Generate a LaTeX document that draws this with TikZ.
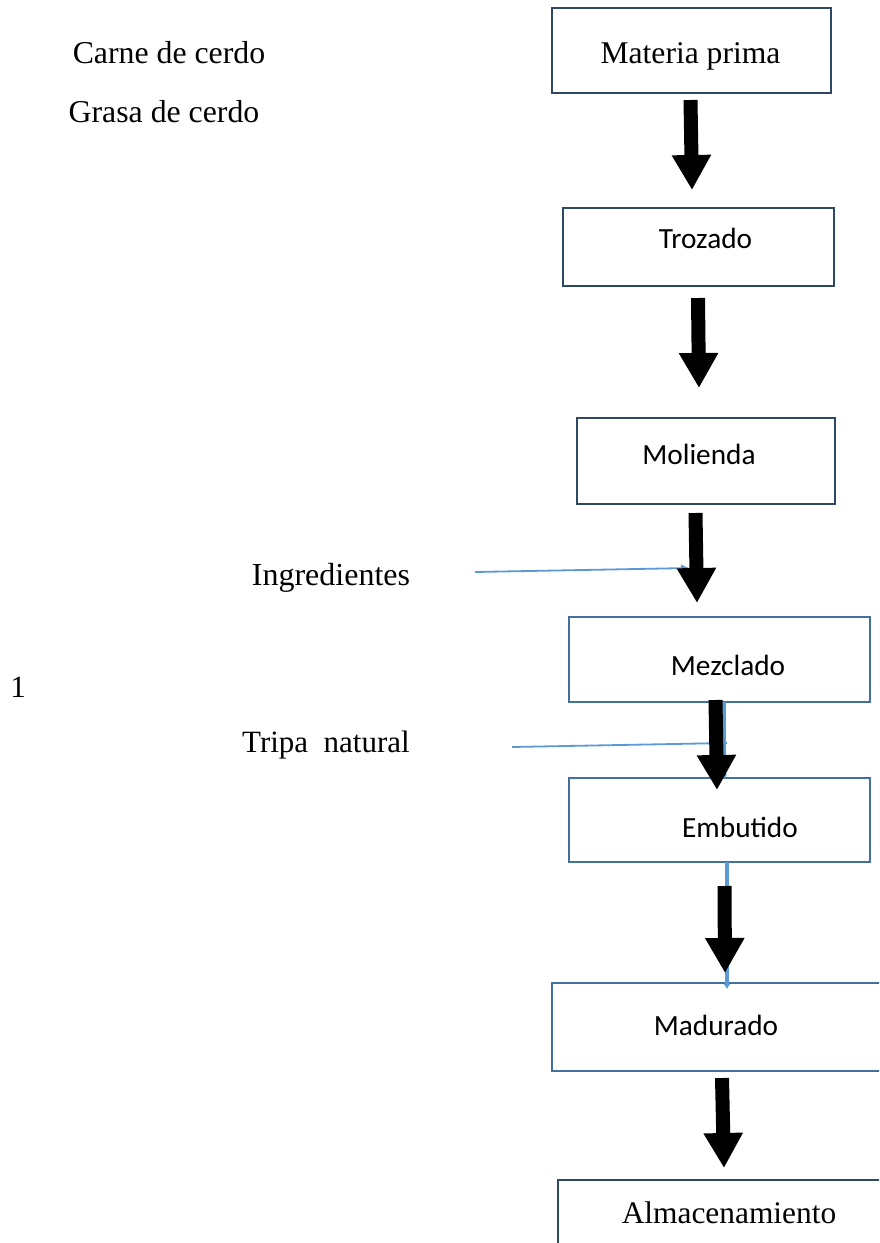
\documentclass[tikz,border=0pt]{standalone}
\usepackage{fontspec}
\setmainfont{Liberation Serif}
\newfontfamily\calib{Carlito}
\usetikzlibrary{arrows.meta}
\definecolor{boxdark}{RGB}{47,72,100}
\definecolor{boxblue}{RGB}{65,113,156}
\definecolor{lineblue}{RGB}{91,155,213}
\tikzset{
  darkbox/.style={draw=boxdark, line width=2.8pt, rectangle, inner sep=0pt, outer sep=0pt, fill=white},
  bluebox/.style={draw=boxblue, line width=2.5pt, rectangle, inner sep=0pt, outer sep=0pt, fill=white},
  serif/.style={anchor=base, inner sep=0pt, font=\fontsize{#1}{#1}\selectfont},
  calibri/.style={anchor=base, inner sep=0pt, font=\calib\fontsize{29.3}{30}\selectfont},
  bigarrow/.style={draw=black, line width=14pt, -{Triangle[width=37pt,length=35pt]}},
  feedline/.style={draw=lineblue, line width=1.8pt},
  bluevert/.style={draw=lineblue, line width=3.5pt, -{Latex[length=5pt,width=7pt]}}
}
\begin{document}
\begin{tikzpicture}[x=1pt,y=-1pt]
\path[use as bounding box, clip] (0,0) rectangle (879,1243);
\fill[white] (0,0) rectangle (879,1243);

% boxes
\node[darkbox, minimum width=279pt, minimum height=85pt] (mp) at (691.5,50.5) {};
\node[darkbox, minimum width=271pt, minimum height=78pt] (tr) at (698.5,247) {};
\node[darkbox, minimum width=258pt, minimum height=86pt] (mo) at (706,461) {};
\node[bluebox, minimum width=301pt, minimum height=85pt] (me) at (719.5,659.5) {};
\node[bluebox, minimum width=301pt, minimum height=84pt] (em) at (719.5,820) {};
\node[bluebox, minimum width=348pt, minimum height=88pt] (ma) at (726,1027) {};
\node[darkbox, minimum width=342pt, minimum height=90pt] (al) at (729,1225) {};

% box texts
\node[serif=31.6] (tmp) at (690.5,63) {Materia prima};
\node[calibri] (ttr) at (705.5,248) {Trozado};
\node[calibri] (tmo) at (699,464) {Molienda};
\node[calibri] (tme) at (728,675) {Mezclado};
\node[calibri] (tem) at (740,837) {Embutido};
\node[calibri] (tma) at (716,1035) {Madurado};
\node[serif=31.4] (tal) at (729,1223) {Almacenamiento};

% side labels
\node[serif=31.8] (carne) at (169,63) {Carne de cerdo};
\node[serif=31.8] (grasa) at (164,122) {Grasa de cerdo};
\node[serif=32] (ingr) at (331,585) {Ingredientes};
\node[serif=31] (tripa) at (326,752) {Tripa\ \ natural};
\node[serif=31] (one) at (18,697) {1};

% blue connectors
\coordinate (ingS) at (475,572);
\coordinate (ingE) at (690,568);
\draw[feedline, -{Latex[length=9pt,width=8pt]}] (ingS) -- (ingE);
\coordinate (triS) at (512,747);
\coordinate (triE) at (727,743);
\draw[feedline] (triS) -- (triE);
\draw[bluevert] ([xshift=4.5pt]me.south) -- ([xshift=4.5pt,yshift=-1pt]em.north);
\draw[bluevert] ([xshift=7.5pt]em.south) -- ([xshift=1pt,yshift=-6pt]ma.north);

% black block arrows
\coordinate (a1s) at (690.5,100); \coordinate (a1e) at (692,190);
\coordinate (a2s) at (698,298);   \coordinate (a2e) at (699,388);
\coordinate (a3s) at (695.5,513); \coordinate (a3e) at (697,603);
\coordinate (a4s) at (715.5,700); \coordinate (a4e) at (717,790);
\coordinate (a5s) at (724.5,886); \coordinate (a5e) at (725,973);
\coordinate (a6s) at (722,1078);  \coordinate (a6e) at (724,1168);
\draw[bigarrow] (a1s) -- (a1e);
\draw[bigarrow] (a2s) -- (a2e);
\draw[bigarrow] (a3s) -- (a3e);
\draw[bigarrow] (a4s) -- (a4e);
\draw[bigarrow] (a5s) -- (a5e);
\draw[bigarrow] (a6s) -- (a6e);
\end{tikzpicture}
\end{document}
